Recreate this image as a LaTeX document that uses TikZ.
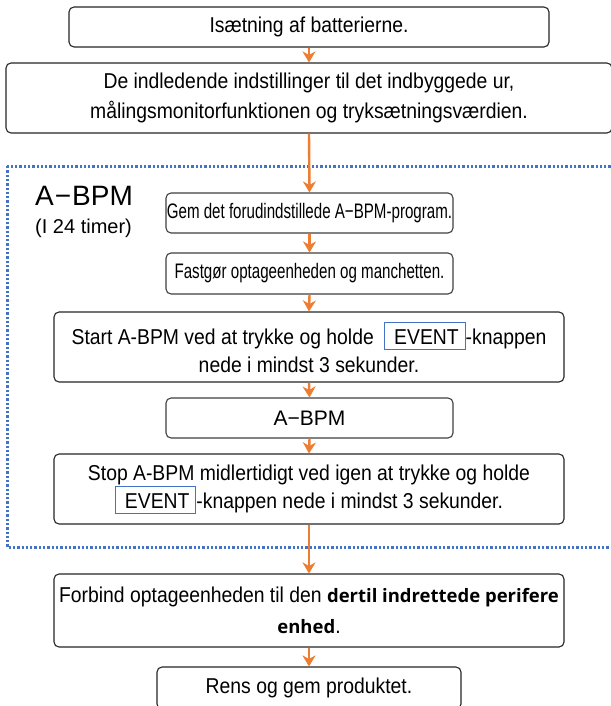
\documentclass[tikz,border=0pt]{standalone}
\usepackage{fontspec}
\setmainfont[FakeStretch=0.9]{Liberation Sans}
\newfontfamily\plainfont{Liberation Sans}
\newfontfamily\narrowfont[FakeStretch=0.72]{Liberation Sans}
\newfontfamily\boldfnt{Open Sans Bold}
\usetikzlibrary{arrows.meta}
\definecolor{arrorange}{HTML}{ED7D31}
\definecolor{evblue}{HTML}{4472C4}
\newcommand{\evbox}{{\setlength{\fboxsep}{0pt}\setlength{\fboxrule}{1pt}\fcolorbox{evblue}{white}{\rule[-4.5pt]{0pt}{26pt}\hspace{9pt}EVENT\hspace{6pt}}}}
\begin{document}
\begin{tikzpicture}[x=1pt,y=-1pt,
  stepbox/.style={draw=black!85, line width=1.1pt, rounded corners=5pt, fill=white, align=center, inner sep=0pt,
     font=\fontsize{21.5}{30}\selectfont},
  flow/.style={draw=arrorange, line width=2.4pt, -{Stealth[length=11pt,width=13pt,inset=3.5pt]}}]
\useasboundingbox (0,0) rectangle (610,706);
\fill[white] (0,0) rectangle (610,706);
% dotted frame
\draw[evblue, line width=3pt, dash pattern=on 2.3pt off 2pt] (7,166) rectangle (618,547);
\node[anchor=base west, font=\plainfont\fontsize{28}{30}\selectfont, inner sep=0pt] (lab1) at (35,205) {A\kern1pt−\kern1ptBPM};
\node[anchor=base west, font=\plainfont\fontsize{20}{24}\selectfont, inner sep=0pt] (lab2) at (35,233) {(I 24 timer)};
% boxes
\node[stepbox, minimum width=480pt, minimum height=40pt] (b1) at (309,27) {Isætning af batterierne.};
\node[stepbox, minimum width=606pt, minimum height=70pt] (b2) at (309,98) {De indledende indstillinger til det indbyggede ur,\\målingsmonitorfunktionen og tryksætningsværdien.};
\node[stepbox, draw=black!75, minimum width=287pt, minimum height=40pt, font=\narrowfont\fontsize{21}{24}\selectfont] (gem) at (309.5,213) {Gem det forudindstillede A−BPM-program.};
\node[stepbox, draw=black!75, minimum width=287pt, minimum height=41pt, font=\narrowfont\fontsize{21}{24}\selectfont] (fast) at (309.5,273.5) {Fastgør optageenheden og manchetten.};
\node[stepbox, minimum width=510pt, minimum height=70pt, font=\fontsize{21.5}{28}\selectfont] (start) at (309,347) {Start A-BPM ved at trykke og holde\hspace{5pt} \evbox-knappen\\nede i mindst 3 sekunder.};
\node[stepbox, draw=black!75, minimum width=287pt, minimum height=40pt, font=\plainfont\fontsize{21}{24}\selectfont] (abpm) at (309.5,418) {A−BPM};
\node[stepbox, minimum width=510pt, minimum height=70pt, font=\fontsize{21.5}{28}\selectfont] (stop) at (309,489) {Stop A-BPM midlertidigt ved igen at trykke og holde\\\evbox-knappen nede i mindst 3 sekunder.};
\node[stepbox, minimum width=510pt, minimum height=73pt, font=\fontsize{21.5}{31}\selectfont] (forb) at (309,610.5) {Forbind optageenheden til den {\boldfnt\fontsize{18.5}{31}\selectfont dertil indrettede perifere}\\{\boldfnt\fontsize{18.5}{31}\selectfont enhed}.};
\node[stepbox, minimum width=304pt, minimum height=42pt] (rens) at (309,688) {Rens og gem produktet.};
% arrows
\draw[flow] (b1.south) -- (b2.north);
\draw[flow] (b2.south) -- (gem.north);
\draw[flow] (gem.south) -- (fast.north);
\draw[flow] (fast.south) -- (start.north);
\draw[flow] (start.south) -- (abpm.north);
\draw[flow] (abpm.south) -- (stop.north);
\draw[flow] (stop.south) -- (forb.north);
\draw[flow] (forb.south) -- (rens.north);
\end{tikzpicture}
\end{document}
